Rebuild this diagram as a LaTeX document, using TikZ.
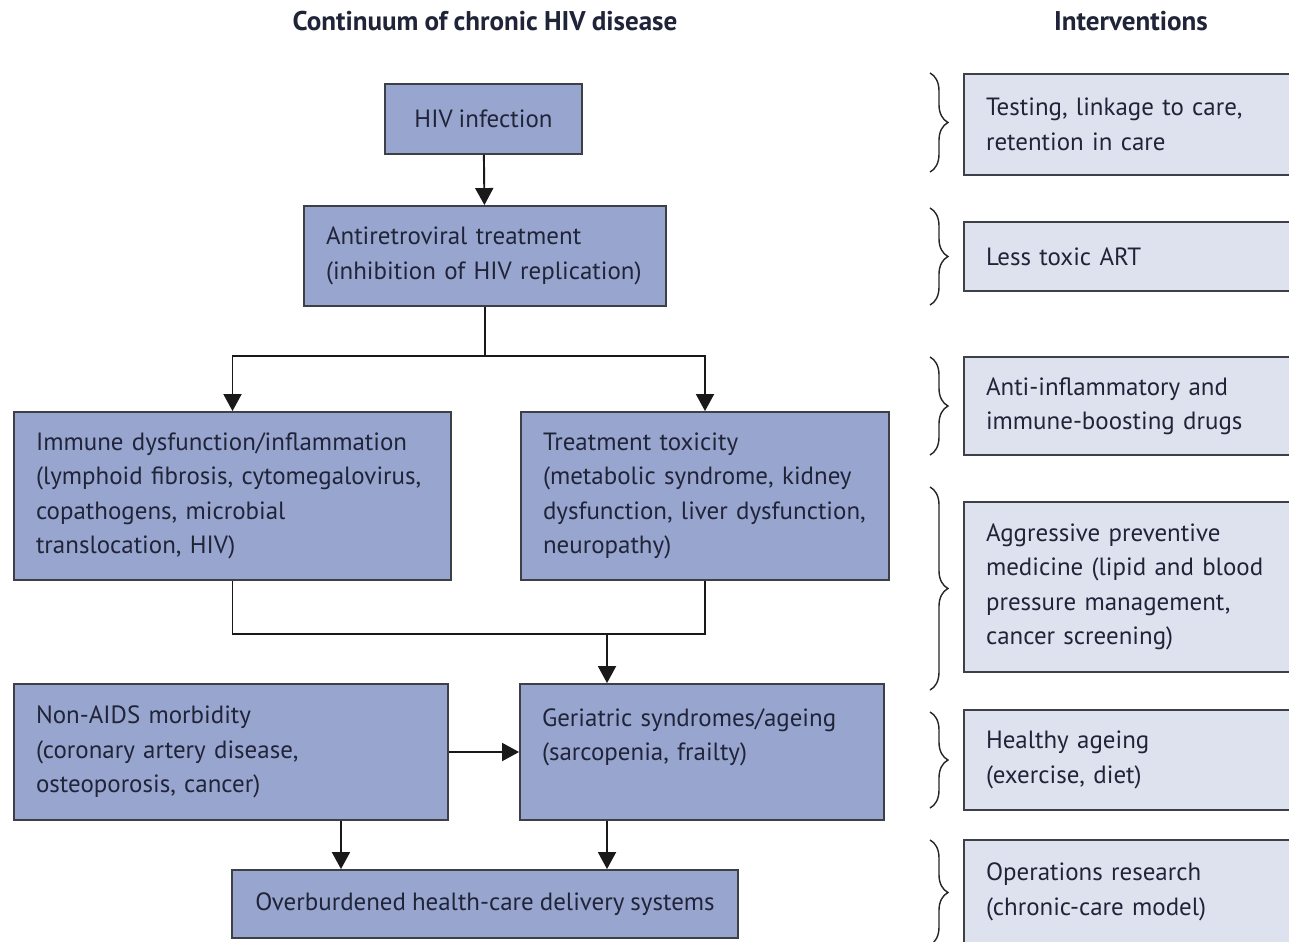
\documentclass[tikz,border=0pt]{standalone}
\usepackage{fontspec}
\setmainfont[WordSpace=0.9]{PT Sans}
\usetikzlibrary{arrows.meta, positioning, calc, decorations.pathreplacing}
\definecolor{BoxDark}{RGB}{152,165,207}
\definecolor{BoxLight}{RGB}{222,226,239}
\definecolor{EdgeGrey}{RGB}{62,64,72}
\definecolor{InkNavy}{RGB}{32,36,56}
\hyphenpenalty=10000

\begin{document}
\begin{tikzpicture}[x=0.02cm,y=-0.02cm,
        disease/.style={draw=EdgeGrey,fill=BoxDark,line width=1.1pt,text=InkNavy,
                        font=\fontsize{14.2}{19.6}\selectfont,
                        align=left,inner xsep=0.44cm,inner ysep=0pt},
        interv/.style={disease,fill=BoxLight,text width=5.68cm,
                       minimum width=6.56cm},
        flow/.style={draw=black!90,line width=1.1pt,
                     -{Triangle[length=0.34cm,width=0.36cm]}},
        link/.style={draw=black!90,line width=1.1pt},
        brc/.style={draw=black!85,line width=0.8pt,decorate,
                    decoration={brace,amplitude=0.36cm}},
        head/.style={font=\fontsize{15.4}{18}\selectfont\bfseries,text=InkNavy}
      ]
        \useasboundingbox (0,0) rectangle (1289,941);
        \clip (0,0) rectangle (1289,941);
        \fill[white] (0,0) rectangle (1289,941);
        % headers
        \node[head] (hleft) at (485,21) {Continuum of chronic HIV disease};
        \node[head] (hright) at (1131,21) {Interventions};
        % disease continuum
        \node[disease,align=center,minimum width=3.94cm,minimum height=1.4cm]
          (hiv) at (483.5,119) {HIV infection};
        \node[disease,text width=6.36cm,minimum height=2.0cm]
          (art) at (485,256) {Antiretroviral treatment\\(inhibition of HIV replication)};
        \node[disease,text width=7.86cm,minimum height=3.36cm]
          (immune) at (232.5,496) {Immune dysfunction/inflammation\\(lymphoid fibrosis, cytomegalovirus,\\copathogens, microbial\\translocation, HIV)};
        \node[disease,text width=6.48cm,minimum height=3.36cm]
          (toxic) at (705,496) {Treatment toxicity\\(metabolic syndrome, kidney\\dysfunction, liver dysfunction,\\neuropathy)};
        \node[disease,text width=7.8cm,minimum height=2.72cm]
          (nonaids) at (231,752) {Non-AIDS morbidity\\(coronary artery disease,\\osteoporosis, cancer)};
        \node[disease,text width=6.4cm,minimum height=2.72cm]
          (geri) at (702,752) {Geriatric syndromes/ageing\\(sarcopenia, frailty)\\~};
        \node[disease,align=center,minimum width=10.12cm,minimum height=1.36cm]
          (burden) at (485,904) {Overburdened health-care delivery systems};
        % connectors
        \draw[flow] (hiv) -- (art);
        \draw[link] (art.south) -- ++(0,49) coordinate (split);
        \draw[flow] (split) -| (immune.north);
        \draw[flow] (split) -| (toxic.north);
        \draw[link] (immune.south) -- ++(0,53) coordinate (join) -| (toxic.south);
        \coordinate (gin) at ([xshift=-1.9cm]geri.north);
        \draw[flow] (join -| gin) -- (gin);
        \draw[flow] (nonaids) -- (geri);
        \coordinate (naout) at ([xshift=2.2cm]nonaids.south);
        \draw[flow] (naout) -- (naout |- burden.north);
        \coordinate (gout) at ([xshift=-1.9cm]geri.south);
        \draw[flow] (gout) -- (gout |- burden.north);
        % interventions
        \node[interv,minimum height=2.02cm] (test) at (1128,124.5)
          {Testing, linkage to care,\\retention in care};
        \node[interv,minimum height=1.38cm] (lesstox) at (1128,256.5)
          {Less toxic ART};
        \node[interv,minimum height=1.96cm] (antiinf) at (1128,406)
          {Anti-inflammatory and\\immune-boosting drugs};
        \node[interv,minimum height=3.4cm] (prevent) at (1128,587)
          {Aggressive preventive\\medicine (lipid and blood\\pressure management,\\cancer screening)};
        \node[interv,minimum height=2.0cm] (healthy) at (1128,760)
          {Healthy ageing\\(exercise, diet)};
        \node[interv,minimum height=2.08cm] (opres) at (1128,892)
          {Operations research\\(chronic-care model)};
        % braces
        \draw[brc] (930,73) -- (930,172);
        \draw[brc] (930,208) -- (930,305);
        \draw[brc] (930,357) -- (930,455);
        \draw[brc] (930,487) -- (930,690);
        \draw[brc] (930,712) -- (930,808);
        \draw[brc] (930,840) -- (930,945);
      \end{tikzpicture}
\end{document}
